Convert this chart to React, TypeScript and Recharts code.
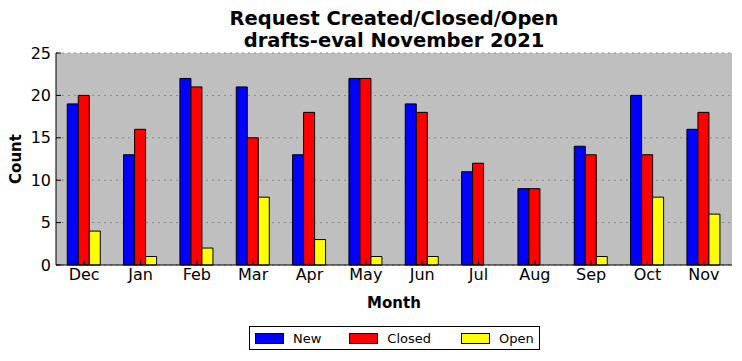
import { BarChart, Bar, XAxis, YAxis, CartesianGrid } from "recharts";

const months = ["Dec", "Jan", "Feb", "Mar", "Apr", "May", "Jun", "Jul", "Aug", "Sep", "Oct", "Nov"];
const newCounts = [19, 13, 22, 21, 13, 22, 19, 11, 9, 14, 20, 16];
const closedCounts = [20, 16, 21, 15, 18, 22, 18, 12, 9, 13, 13, 18];
const openCounts = [4, 1, 2, 8, 3, 1, 1, 0, 0, 1, 8, 6];
const yTicks = [0, 5, 10, 15, 20, 25];

const series = [
  { key: "New", color: "#0000ff" },
  { key: "Closed", color: "#ff0000" },
  { key: "Open", color: "#ffff00" },
];

const data = months.map((m, i) => ({
  month: m,
  New: newCounts[i],
  Closed: closedCounts[i],
  Open: openCounts[i],
}));

const FONT = "'DejaVu Sans', sans-serif";

export default function App() {
  const tickStyle = { fontSize: 16, fill: "#000", fontFamily: FONT };
  return (
    <div style={{ position: "absolute", left: 0, top: 0, width: 742, height: 361, background: "#fff", fontFamily: FONT }}>
      <div
        style={{
          position: "absolute",
          left: 56,
          width: 676,
          top: 8,
          textAlign: "center",
          fontWeight: "bold",
          fontSize: 19.5,
          lineHeight: "22px",
        }}
      >
        Request Created/Closed/Open
        <br />
        drafts-eval November 2021
      </div>
      <BarChart
        width={742}
        height={361}
        data={data}
        margin={{ top: 53, right: 10, bottom: 66, left: 6 }}
        barCategoryGap="20%"
        barGap={0}
      >
        <CartesianGrid vertical={false} stroke="#8a8a8a" strokeDasharray="2 4" fill="#bfbfbf" yAxisId={0} />
        <XAxis
          dataKey="month"
          height={30}
          tick={tickStyle}
          tickSize={-5}
          tickMargin={9}
          stroke="#000"
          interval={0}
        />
        <XAxis
          xAxisId="top"
          dataKey="month"
          orientation="top"
          height={0}
          tick={false}
          tickSize={-5}
          stroke="#000"
          interval={0}
        />
        <YAxis
          domain={[0, 25]}
          ticks={yTicks}
          width={50}
          tick={tickStyle}
          tickSize={-5}
          tickMargin={10}
          stroke="#000"
          interval={0}
        />
        <YAxis
          yAxisId="right"
          orientation="right"
          domain={[0, 25]}
          ticks={yTicks}
          width={0}
          tick={false}
          tickSize={-5}
          stroke="#000"
          interval={0}
        />
        {series.map((s) => (
          <Bar key={s.key} dataKey={s.key} fill={s.color} stroke="#000" strokeWidth={1} isAnimationActive={false} />
        ))}
      </BarChart>
      <div
        style={{
          position: "absolute",
          left: 0,
          top: 159,
          width: 32,
          height: 0,
          display: "flex",
          justifyContent: "center",
          alignItems: "center",
        }}
      >
        <div style={{ transform: "rotate(-90deg)", fontWeight: "bold", fontSize: 15, whiteSpace: "nowrap" }}>Count</div>
      </div>
      <div
        style={{
          position: "absolute",
          left: 56,
          width: 676,
          top: 294,
          textAlign: "center",
          fontWeight: "bold",
          fontSize: 15,
        }}
      >
        Month
      </div>
      <div
        style={{
          position: "absolute",
          left: 249,
          top: 326,
          width: 289,
          height: 22,
          border: "1px solid #000",
          background: "#fff",
          display: "flex",
          alignItems: "center",
          fontSize: 13,
        }}
      >
        {series.map((s, i) => (
          <div key={s.key} style={{ display: "flex", alignItems: "center", marginLeft: i === 0 ? 5 : 0, marginRight: i === 0 ? 28 : i === 1 ? 30 : 0 }}>
            <span style={{ display: "inline-block", width: 27, height: 9, background: s.color, border: "1px solid #000", marginRight: 9 }} />
            <span>{s.key}</span>
          </div>
        ))}
      </div>
    </div>
  );
}
